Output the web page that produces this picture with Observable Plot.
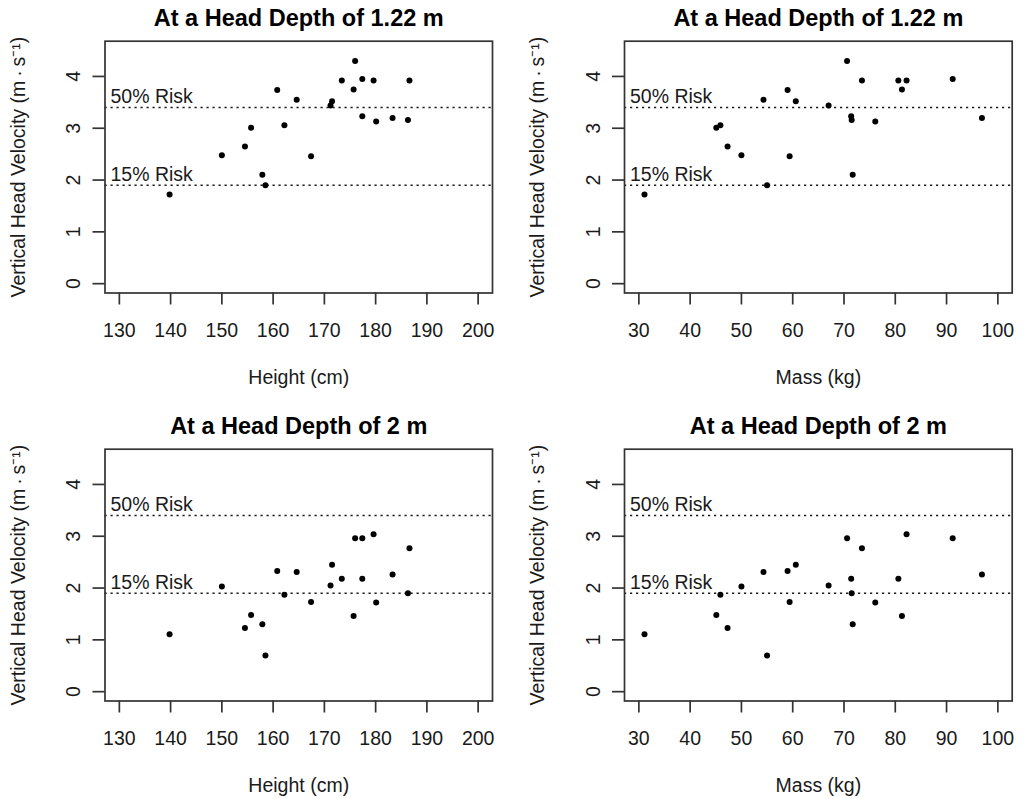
<!DOCTYPE html>
<html>
<head>
<meta charset="utf-8">
<script src="https://cdn.jsdelivr.net/npm/d3@7"></script>
<script src="https://cdn.jsdelivr.net/npm/@observablehq/plot@0.6"></script>
<style>
  html, body { margin: 0; padding: 0; background: #fff; }
  #wrap { position: relative; width: 1025px; height: 799px; overflow: hidden; background: #fff; }
  .cell { position: absolute; }
</style>
</head>
<body>
<div id="wrap"></div>
<script>
// ---- Data, one entry per subject ----
const heightCm = [139.8, 150.0, 154.5, 155.7, 157.9, 158.5, 160.8, 162.2, 164.6, 167.4, 171.2, 171.5, 173.4, 175.7, 176.0, 177.4, 177.4, 179.6, 180.1, 183.3, 186.3, 186.6];
const massKg   = [31.1, 50.0, 47.3, 45.1, 71.7, 55.0, 59.0, 45.9, 54.3, 59.4, 67.0, 60.6, 80.6, 81.3, 70.6, 91.2, 71.4, 82.2, 76.1, 96.9, 71.5, 73.5];
const velocity122 = [1.72, 2.48, 2.65, 3.01, 2.10, 1.90, 3.74, 3.06, 3.55, 2.46, 3.44, 3.52, 3.92, 3.75, 4.30, 3.95, 3.23, 3.92, 3.13, 3.20, 3.16, 3.92];
const velocity2   = [1.11, 2.03, 1.23, 1.48, 1.30, 0.70, 2.33, 1.87, 2.31, 1.73, 2.05, 2.45, 2.18, 1.46, 2.96, 2.96, 2.18, 3.04, 1.72, 2.26, 1.90, 2.77];

const riskLevels = [3.4, 1.9];
const riskLabels = ["50% Risk", "15% Risk"];

const heightTicks = [130, 140, 150, 160, 170, 180, 190, 200];
const massTicks = [30, 40, 50, 60, 70, 80, 90, 100];
const velocityTicks = [0, 1, 2, 3, 4];

const heightLim = [130, 200];
const massLim = [30, 100];
const velocityLim = [0, 4.5];

const titles = ["At a Head Depth of 1.22 m", "At a Head Depth of 2 m"];
const xLabels = ["Height (cm)", "Mass (kg)"];
const yLabel = "Vertical Head Velocity (m\u2009\u00b7\u2009s\u207b\u00b9)";

// ---- Build tables ----
const subjects = heightCm.map((h, i) => ({height: h, mass: massKg[i], v122: velocity122[i], v2: velocity2[i]}));
const risks = riskLevels.map((v, i) => ({v, label: riskLabels[i]}));

// R-style 4% axis extension
const ext = ([a, b]) => { const d = (b - a) * 0.04; return [a - d, b + d]; };

const FONT = "'Liberation Sans', Arial, Helvetica, sans-serif";
const INK = "#1a1a1a";

function panel({xKey, yKey, xLim, xTicks, xLabel, title, width, height, marginLeft, marginRight, marginTop, marginBottom}) {
  return Plot.plot({
    width, height, marginLeft, marginRight, marginTop, marginBottom,
    style: {fontFamily: FONT, fontSize: "19.5px", color: INK, background: "white", overflow: "visible"},
    x: {domain: ext(xLim), nice: false},
    y: {domain: ext(velocityLim), nice: false},
    marks: [
      Plot.ruleY(risks, {y: "v", stroke: INK, strokeWidth: 1.7, strokeDasharray: "2.2,3.8"}),
      Plot.text(risks, {y: "v", text: "label", frameAnchor: "left", dx: 5.5, dy: -4.4, textAnchor: "start", lineAnchor: "bottom", fontSize: 19.5, fill: INK}),
      Plot.dot(subjects, {x: xKey, y: yKey, r: 3, fill: "#000", stroke: null}),
      Plot.frame({stroke: "#333", strokeWidth: 1.7}),
      Plot.axisX({ticks: xTicks, tickFormat: d => String(d), tickSize: 12, tickPadding: 18, fontSize: 19.5, label: null, stroke: "#333", strokeWidth: 1.7, fill: INK}),
      Plot.axisY({ticks: velocityTicks, tickFormat: d => String(d), tickSize: 12, tickPadding: 13, tickRotate: -90, textAnchor: "middle", lineAnchor: "bottom", fontSize: 19.5, label: null, stroke: "#333", strokeWidth: 1.7, fill: INK}),
      Plot.text([title], {text: d => d, frameAnchor: "top", dy: -15.7, lineAnchor: "bottom", fontSize: 23.5, fontWeight: "bold", fill: "#000"}),
      Plot.text([xLabel], {text: d => d, frameAnchor: "bottom", dy: 91, lineAnchor: "bottom", fontSize: 19.5, fill: INK}),
      Plot.text([yLabel], {text: d => d, frameAnchor: "left", dx: -80.5, rotate: -90, textAnchor: "middle", lineAnchor: "bottom", fontSize: 19.5, fill: INK})
    ]
  });
}

const wrap = document.getElementById("wrap");
const cells = [
  {left: 0,   top: 0,   width: 512, height: 408, xKey: "height", yKey: "v122", xLim: heightLim, xTicks: heightTicks, xLabel: xLabels[0], title: titles[0], marginLeft: 104.5, marginRight: 20},
  {left: 512, top: 0,   width: 513, height: 408, xKey: "mass",   yKey: "v122", xLim: massLim,   xTicks: massTicks,   xLabel: xLabels[1], title: titles[0], marginLeft: 112, marginRight: 13.3},
  {left: 0,   top: 408, width: 512, height: 391, xKey: "height", yKey: "v2",   xLim: heightLim, xTicks: heightTicks, xLabel: xLabels[0], title: titles[1], marginLeft: 104.5, marginRight: 20},
  {left: 512, top: 408, width: 513, height: 391, xKey: "mass",   yKey: "v2",   xLim: massLim,   xTicks: massTicks,   xLabel: xLabels[1], title: titles[1], marginLeft: 112, marginRight: 13.3}
];
for (const c of cells) {
  const div = document.createElement("div");
  div.className = "cell";
  div.style.left = c.left + "px";
  div.style.top = c.top + "px";
  const marginTop = 40.7;
  const marginBottom = c.height - 292.5;
  div.appendChild(panel({...c, marginTop, marginBottom}));
  wrap.appendChild(div);
}
</script>
</body>
</html>
